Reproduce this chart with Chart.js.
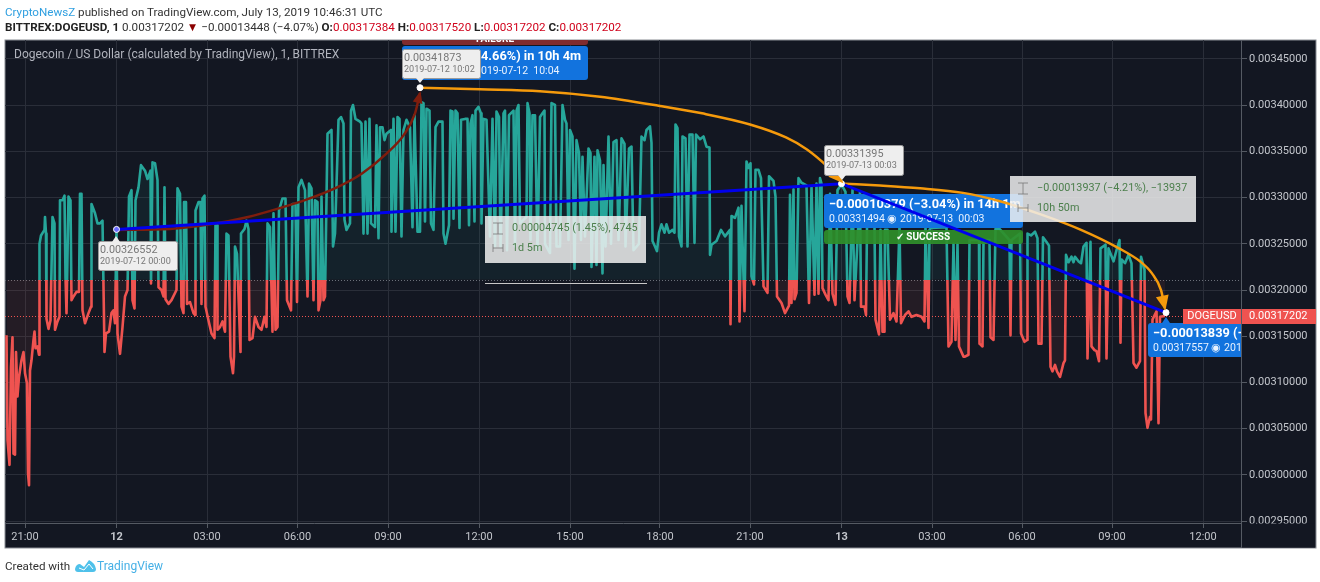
<!DOCTYPE html>
<html><head><meta charset="utf-8">
<script src="https://cdn.jsdelivr.net/npm/chart.js@4"></script>
<style>
html,body{margin:0;padding:0;background:#fff;width:1320px;height:582px;overflow:hidden;font-family:Roboto,sans-serif}
canvas{position:absolute;left:0;top:0}
.t{position:absolute;white-space:nowrap;font-size:11.65px;line-height:16px;color:#333}
.r{color:#d0021b}.b{color:#2f9fe0}
</style></head><body>
<div style="position:absolute;left:0;top:0;width:1320px;height:582px"><canvas id="c" width="1320" height="582"></canvas></div>
<div class="t" style="left:5px;top:4px"><span class="b">CryptoNewsZ</span> published on TradingView.com, July 13, 2019 10:46:31 UTC</div>
<div class="t" style="left:5px;top:19px"><b style="color:#222">BITTREX:DOGEUSD, 1</b> 0.00317202 <span style="color:#8b0000">▼</span> −0.00013448 (−4.07%) <b style="color:#222">O:</b><span class="r">0.00317384</span> <b style="color:#222">H:</b><span class="r">0.00317520</span> <b style="color:#222">L:</b><span class="r">0.00317202</span> <b style="color:#222">C:</b><span class="r">0.00317202</span></div>
<div class="t" style="left:5px;top:558px">Created with</div>
<svg style="position:absolute;left:75px;top:558px" width="22" height="15" viewBox="0 0 22 15"><path d="M0 11 Q1 6 5 6 L9 9 L14 2 Q20 5 21 11 Q21 14 18 14 L3 14 Q0 14 0 11Z" fill="#4fc1ea"/><path d="M4 10 L9 12 L14 6 L18 11" stroke="#fff" fill="none"/></svg>
<div class="t b" style="left:97px;top:558px;color:#45b0e6;font-size:12px">TradingView</div>
<script>
// Times are minutes from 2019-07-11 21:00 on the chart's axis; prices in millionths of a US dollar.
const priceSamples=[[-37,3151],[-35,3038],[-31,3011],[-28,3117],[-25,3149],[-23,3023],[-20,3022],[-18,3133],[-15,3085],[-12,3106],[-7,3124],[-3,3133],[0,3110],[4,3099],[6,3002],[8,2989],[10,3113],[13,3124],[17,3146],[19,3155],[21,3137],[25,3139],[28,3130],[29,3250],[32,3259],[39,3265],[40,3279],[42,3261],[43,3169],[47,3158],[51,3167],[55,3279],[59,3272],[60,3157],[65,3166],[69,3171],[70,3297],[75,3297],[79,3302],[81,3214],[83,3175],[87,3301],[91,3297],[93,3189],[97,3193],[103,3198],[108,3198],[110,3304],[113,3304],[115,3178],[120,3164],[127,3175],[132,3182],[133,3293],[140,3283],[145,3272],[150,3272],[155,3275],[159,3133],[162,3153],[168,3155],[173,3175],[177,3178],[180,3164],[183,3266],[185,3153],[190,3131],[195,3160],[200,3193],[205,3200],[208,3301],[213,3308],[215,3189],[219,3180],[221,3297],[227,3311],[232,3335],[240,3329],[245,3320],[251,3329],[252,3207],[255,3338],[260,3337],[265,3319],[267,3203],[273,3200],[277,3193],[279,3311],[281,3190],[287,3185],[293,3189],[303,3200],[305,3310],[310,3304],[313,3182],[317,3175],[318,3295],[322,3295],[324,3185],[330,3187],[337,3175],[340,3173],[341,3286],[347,3295],[351,3295],[353,3185],[355,3299],[359,3302],[361,3182],[367,3167],[373,3153],[379,3148],[381,3270],[384,3270],[385,3157],[390,3160],[395,3166],[400,3155],[403,3261],[407,3259],[411,3128],[416,3110],[418,3128],[420,3247],[424,3239],[431,3133],[432,3261],[439,3266],[443,3275],[447,3266],[449,3146],[455,3148],[460,3171],[467,3160],[473,3157],[479,3171],[483,3160],[485,3272],[490,3268],[495,3155],[497,3283],[501,3157],[505,3160],[508,3286],[515,3299],[521,3299],[524,3189],[532,3178],[535,3293],[541,3293],[544,3187],[547,3311],[553,3319],[560,3308],[565,3193],[568,3315],[573,3310],[577,3189],[580,3297],[585,3295],[587,3178],[591,3189],[593,3301],[597,3189],[600,3193],[605,3369],[613,3373],[616,3247],[620,3261],[627,3384],[632,3387],[637,3380],[639,3276],[643,3265],[650,3272],[652,3394],[656,3400],[661,3385],[670,3382],[673,3380],[677,3261],[681,3382],[685,3261],[689,3385],[692,3272],[700,3268],[703,3378],[707,3256],[710,3376],[715,3376],[719,3362],[723,3369],[732,3373],[733,3263],[737,3385],[741,3263],[745,3387],[749,3385],[753,3258],[757,3373],[763,3384],[770,3376],[775,3268],[779,3389],[785,3263],[790,3263],[793,3403],[797,3402],[800,3274],[803,3396],[809,3394],[812,3272],[817,3265],[821,3376],[827,3382],[835,3382],[837,3261],[841,3250],[848,3270],[851,3394],[855,3393],[857,3277],[861,3394],[865,3391],[869,3267],[872,3384],[880,3385],[885,3385],[888,3270],[891,3380],[895,3389],[899,3274],[901,3394],[907,3398],[912,3391],[913,3272],[917,3385],[923,3384],[930,3258],[935,3385],[940,3247],[943,3393],[948,3387],[951,3247],[957,3391],[960,3394],[964,3243],[968,3389],[977,3394],[980,3247],[983,3394],[987,3400],[990,3272],[999,3277],[1003,3279],[1005,3402],[1009,3391],[1011,3254],[1015,3389],[1020,3389],[1025,3243],[1030,3387],[1035,3391],[1039,3394],[1040,3250],[1050,3240],[1053,3402],[1060,3400],[1063,3247],[1070,3247],[1075,3400],[1080,3384],[1083,3380],[1087,3254],[1090,3373],[1095,3366],[1099,3223],[1103,3362],[1108,3348],[1112,3254],[1115,3344],[1120,3258],[1127,3353],[1131,3348],[1133,3225],[1139,3344],[1143,3227],[1145,3351],[1150,3340],[1155,3218],[1157,3335],[1161,3247],[1167,3366],[1172,3250],[1177,3360],[1183,3362],[1187,3254],[1193,3364],[1199,3358],[1201,3247],[1208,3353],[1213,3355],[1217,3243],[1228,3250],[1233,3366],[1239,3362],[1243,3373],[1250,3377],[1253,3359],[1255,3253],[1260,3247],[1264,3242],[1268,3262],[1273,3271],[1279,3262],[1283,3271],[1288,3262],[1295,3265],[1299,3262],[1301,3379],[1305,3375],[1308,3258],[1313,3247],[1315,3366],[1321,3364],[1325,3247],[1329,3368],[1335,3368],[1339,3251],[1342,3368],[1350,3363],[1357,3366],[1363,3355],[1369,3354],[1370,3238],[1373,3249],[1383,3253],[1392,3265],[1400,3258],[1410,3265],[1411,3163],[1413,3280],[1420,3278],[1427,3289],[1429,3166],[1433,3291],[1439,3177],[1443,3339],[1447,3332],[1451,3337],[1453,3215],[1458,3206],[1461,3330],[1467,3330],[1472,3321],[1477,3204],[1485,3197],[1488,3323],[1497,3318],[1501,3301],[1504,3193],[1513,3186],[1520,3175],[1528,3183],[1530,3303],[1533,3186],[1537,3309],[1539,3190],[1543,3197],[1547,3321],[1553,3316],[1563,3313],[1568,3186],[1573,3312],[1579,3195],[1583,3315],[1587,3196],[1590,3321],[1593,3315],[1595,3202],[1601,3195],[1607,3189],[1610,3304],[1615,3196],[1621,3184],[1625,3308],[1633,3314],[1641,3306],[1645,3193],[1649,3186],[1655,3308],[1659,3189],[1670,3306],[1672,3182],[1679,3182],[1682,3173],[1684,3269],[1699,3269],[1701,3168],[1708,3152],[1711,3265],[1715,3155],[1719,3155],[1720,3265],[1725,3265],[1730,3168],[1737,3175],[1743,3166],[1749,3269],[1752,3164],[1760,3173],[1767,3177],[1773,3171],[1783,3173],[1793,3171],[1799,3166],[1801,3269],[1807,3159],[1809,3265],[1812,3267],[1843,3268],[1847,3139],[1853,3144],[1857,3250],[1861,3146],[1865,3250],[1868,3139],[1877,3128],[1880,3128],[1887,3130],[1889,3254],[1893,3254],[1908,3254],[1909,3142],[1915,3139],[1917,3254],[1929,3254],[1931,3149],[1937,3146],[1941,3266],[1949,3266],[1969,3254],[1971,3151],[1973,3254],[1990,3261],[1992,3153],[1999,3144],[2004,3146],[2005,3261],[2012,3259],[2020,3263],[2025,3256],[2027,3142],[2033,3142],[2036,3257],[2043,3252],[2048,3248],[2051,3117],[2055,3112],[2060,3119],[2064,3112],[2070,3106],[2077,3121],[2080,3124],[2082,3238],[2087,3230],[2093,3236],[2097,3230],[2100,3236],[2107,3231],[2112,3229],[2117,3247],[2123,3251],[2125,3126],[2131,3252],[2133,3139],[2139,3135],[2143,3134],[2148,3123],[2151,3245],[2161,3249],[2163,3126],[2167,3245],[2177,3231],[2183,3243],[2189,3254],[2191,3143],[2193,3233],[2200,3229],[2207,3238],[2213,3229],[2217,3121],[2223,3116],[2230,3123],[2232,3236],[2239,3222],[2241,3067],[2245,3051],[2250,3063],[2252,3060],[2255,3168],[2263,3177],[2267,3056],[2270,3171],[2280,3172]];
const baselinePrice=3211;
const lastPrice=3172.02;
const trendBlue=[[183,3265.52],[1633,3314.94],[2282,3175.57]];
const curveBrown=[[183,3265],[290,3266],[370,3271],[446,3279],[506,3288],[564,3298],[624,3311],[674,3326],[724,3348],[758,3368],[780,3391],[790,3413]];
const curveOrangeA=[[790,3418.7],[910,3417],[1030,3415],[1150,3409],[1270,3399],[1354,3391],[1450,3379],[1522,3365],[1564,3352],[1606,3333],[1634,3317]];
const curveOrangeB=[[1640,3315],[1710,3313],[1790,3310],[1876,3305],[1950,3296],[2030,3282],[2112,3265],[2188,3245],[2230,3231],[2254,3218],[2272,3200],[2280,3180]];
const handlePoints=[[183,3265.52],[790,3418.73],[1633,3314.94],[2282,3175.57]];
const yTickValues=[3450,3400,3350,3300,3250,3200,3150,3100,3050,3000,2950];
const yTickLabels=["0.00345000","0.00340000","0.00335000","0.00330000","0.00325000","0.00320000","0.00315000","0.00310000","0.00305000","0.00300000","0.00295000"];
const xTickValues=[0,183,364,545,726,908,1090,1270,1450,1633,1814,1994,2174,2356];
const xTickLabels=["21:00","12","03:00","06:00","09:00","12:00","15:00","18:00","21:00","13","03:00","06:00","09:00","12:00"];

const F='Roboto,sans-serif', TEAL='#26a69a', RED='#ef5350';
const toXY=a=>a.map(p=>({x:p[0],y:p[1]}));

function rr(c,x,y,w,h,r){c.beginPath();c.roundRect(x,y,w,h,r);}
function text(c,s,x,y,font,col,align){c.font=font;c.fillStyle=col;c.textAlign=align||'left';c.textBaseline='middle';c.fillText(s,x,y);}
function tip(c,x,y,w,h,s1,s2,px,up){
  c.fillStyle='#eeeeee';c.strokeStyle='#9a9a9a';c.lineWidth=1;rr(c,x+.5,y+.5,w,h,2);c.fill();c.stroke();
  c.fillStyle='#eeeeee';c.beginPath();
  if(up){c.moveTo(px-4,y+1);c.lineTo(px,y-5);c.lineTo(px+4,y+1);}else{c.moveTo(px-4,y+h);c.lineTo(px,y+h+5);c.lineTo(px+4,y+h);}
  c.fill();
  text(c,s1,x+2,y+9,'10.8px '+F,'#777');text(c,s2,x+2,y+21,'9.1px '+F,'#777');
}
function grayBox(c,x,y,w,h,s1,s2){
  c.fillStyle='rgba(240,240,240,.85)';c.fillRect(x,y,w,h);
  c.strokeStyle='rgba(120,120,120,.8)';c.lineWidth=1;c.beginPath();
  const ix=x+13,y1=y+12,y2=y+32;
  c.moveTo(ix-5,y1-5);c.lineTo(ix+5,y1-5);c.moveTo(ix-5,y1+6);c.lineTo(ix+5,y1+6);c.moveTo(ix,y1-5);c.lineTo(ix,y1+6);
  c.moveTo(ix-5,y2-4);c.lineTo(ix-5,y2+4);c.moveTo(ix+5,y2-4);c.lineTo(ix+5,y2+4);c.moveTo(ix-5,y2);c.lineTo(ix+5,y2);c.stroke();
  text(c,s1,x+27,y1,'10.8px '+F,'#4c7f4c');text(c,s2,x+27,y2,'10.8px '+F,'#4c7f4c');
}
function blueBox(c,x,y,w,h,s1,s2,sx){
  c.fillStyle='#1273de';c.strokeStyle='#2a8cf0';rr(c,x,y,w,h,3);c.fill();
  text(c,s1,sx,y+11,'bold 12.8px '+F,'#fff');text(c,s2,sx,y+25,'10.5px '+F,'#e8f2ff');
}
function arrow(c,chart,pts,col,size){
  const X=chart.scales.x,Y=chart.scales.y,n=pts.length;
  const tx=X.getPixelForValue(pts[n-1][0]),ty=Y.getPixelForValue(pts[n-1][1]);
  const bx=X.getPixelForValue(pts[n-2][0]),by=Y.getPixelForValue(pts[n-2][1]);
  const a=Math.atan2(ty-by,tx-bx);
  c.save();c.translate(tx,ty);c.rotate(a);c.fillStyle=col;c.beginPath();c.moveTo(2,0);c.lineTo(-size,-size*.5);c.lineTo(-size,size*.5);c.fill();c.restore();
}

const scenery={id:'scenery',
  beforeDraw(ch){const c=ch.ctx;c.save();c.fillStyle='#fff';c.fillRect(0,0,1320,582);
    c.fillStyle='#131722';c.fillRect(5,40,1311,508);c.strokeStyle='#8a8d94';c.lineWidth=1;c.strokeRect(5,40,1311,508);c.restore();},
  beforeDatasetsDraw(ch){const c=ch.ctx,Y=ch.scales.y,A=ch.chartArea;c.save();c.lineWidth=1;
    c.setLineDash([1,2]);
    c.strokeStyle='#6b7079';c.beginPath();let p=Math.round(Y.getPixelForValue(baselinePrice))+.5;c.moveTo(A.left,p);c.lineTo(A.right,p);c.stroke();
    c.strokeStyle='#ef5350';c.beginPath();p=Math.round(Y.getPixelForValue(lastPrice))+.5;c.moveTo(A.left,p);c.lineTo(A.right,p);c.stroke();
    c.restore();},
  afterDatasetDraw(ch,args){ if(args.index!==5)return; const c=ch.ctx;c.save();
    c.beginPath();c.rect(5,40,1236,483);c.clip();
    c.fillStyle='#7f2b2e';rr(c,402,32,186,13,3);c.fill();
    text(c,'FAILURE',495,39,'bold 10px '+F,'#fff','center');
    blueBox(c,402,46,186,34,'4.66%) in 10h 4m','019-07-12  10:04',481);
    blueBox(c,824,194,199,34,'−0.00010379 (−3.04%) in 14h 1m','0.00331494 ◉ 2019-07-13  00:03',829);
    c.fillStyle='rgba(47,143,42,.92)';rr(c,824,230,199,14,3);c.fill();
    text(c,'✓ SUCCESS',923,237,'bold 10px '+F,'#fff','center');
    c.fillStyle='#1273de';c.beginPath();c.moveTo(1162,323);c.lineTo(1166,317);c.lineTo(1170,323);c.fill();
    blueBox(c,1148,323,110,34,'−0.00013839 (−','0.00317557 ◉ 2019',1153);
    c.restore();},
  afterDatasetsDraw(ch){const c=ch.ctx;c.save();
    c.fillStyle='#131722';c.fillRect(1242,523.5,73,24);
    c.strokeStyle='#555a63';c.lineWidth=1;c.beginPath();c.moveTo(1241.5,40);c.lineTo(1241.5,548);c.stroke();
    arrow(c,ch,curveBrown,'#7f1d0d',10);
    arrow(c,ch,curveOrangeA,'#f59a0c',13);
    arrow(c,ch,curveOrangeB,'#f59a0c',13);
    text(c,'Dogecoin / US Dollar (calculated by TradingView), 1, BITTREX',14,55,'12px '+F,'#b2b5be');
    tip(c,402,49,78,29,'0.00341873','2019-07-12 10:02',420,false);
    tip(c,98,241,79,29,'0.00326552','2019-07-12 00:00',116,true);
    tip(c,824,145,79,30,'0.00331395','2019-07-13 00:03',842,false);
    grayBox(c,485,216,161,47,'0.00004745 (1.45%), 4745','1d 5m');
    grayBox(c,1010,176,186,46,'−0.00013937 (−4.21%), −13937','10h 50m');
    c.strokeStyle='#c8c8c8';c.beginPath();c.moveTo(485,283.5);c.lineTo(647,283.5);c.stroke();
    c.fillStyle='#ef5350';c.fillRect(1183,309,58,15);c.fillRect(1242,309,74,15);
    text(c,'DOGEUSD',1212,316.5,'11px '+F,'#fff','center');
    text(c,'0.00317202',1249,316.5,'11px '+F,'#fff');
    c.restore();}
};

function lineSet(pts,col,w){return {data:toXY(pts),borderColor:col,borderWidth:w,pointRadius:0,fill:false,cubicInterpolationMode:'monotone'};}

new Chart(document.getElementById('c'),{
  type:'line',
  plugins:[scenery],
  data:{datasets:[
    {data:toXY(handlePoints),showLine:false,pointRadius:3,pointBackgroundColor:['#6a6aff','#fff','#fff','#fff'],pointBorderColor:'#fff',pointBorderWidth:1,fill:false},
    {data:toXY(trendBlue),borderColor:'#0000ee',borderWidth:3,pointRadius:0,fill:false,tension:0},
    lineSet(curveBrown,'#7f1d0d',2.5),
    lineSet(curveOrangeA,'#f59a0c',2.5),
    lineSet(curveOrangeB,'#f59a0c',2.5),
    {data:toXY(priceSamples),pointRadius:0,borderWidth:2.6,tension:0,borderJoinStyle:'round',
     fill:{target:{value:baselinePrice},above:'rgba(38,166,154,.08)',below:'rgba(239,83,80,.08)'},
     borderColor(ctx){const ch=ctx.chart,A=ch.chartArea;if(!A)return TEAL;
       const y=ch.scales.y.getPixelForValue(baselinePrice),s=(y-A.top)/(A.bottom-A.top);
       const g=ch.ctx.createLinearGradient(0,A.top,0,A.bottom);
       g.addColorStop(0,TEAL);g.addColorStop(s,TEAL);g.addColorStop(s,RED);g.addColorStop(1,RED);return g;}}
  ]},
  options:{responsive:false,animation:false,devicePixelRatio:1,
    layout:{padding:{left:5,top:40,right:4,bottom:34}},
    plugins:{legend:{display:false},tooltip:{enabled:false},title:{display:false}},
    events:[],
    scales:{
      x:{type:'linear',min:-40,max:2432,
        afterBuildTicks(s){s.ticks=xTickValues.map(v=>({value:v}));},
        afterFit(s){s.height=25;},
        grid:{color:'#2a2e39',tickLength:5,tickColor:'#555a63'},border:{color:'#555a63'},
        ticks:{autoSkip:false,maxRotation:0,padding:3,color:'#c3c6cc',
          font(ctx){const l=xTickLabels[xTickValues.indexOf(ctx.tick&&ctx.tick.value)];return {family:F,size:11,weight:(l==='12'||l==='13')?'bold':'normal'};},
          callback(v){return xTickLabels[xTickValues.indexOf(v)];}}},
      y:{type:'linear',position:'right',min:2948.1,max:3470.3,
        afterBuildTicks(s){s.ticks=yTickValues.map(v=>({value:v}));},
        afterFit(s){s.width=75;},
        grid:{color:'#2a2e39',tickLength:6,tickColor:'#555a63'},border:{color:'#555a63'},
        ticks:{padding:2,color:'#c3c6cc',font:{family:F,size:11},
          callback(v){return yTickLabels[yTickValues.indexOf(v)];}}}
    }
  }
});
</script>
</body></html>
